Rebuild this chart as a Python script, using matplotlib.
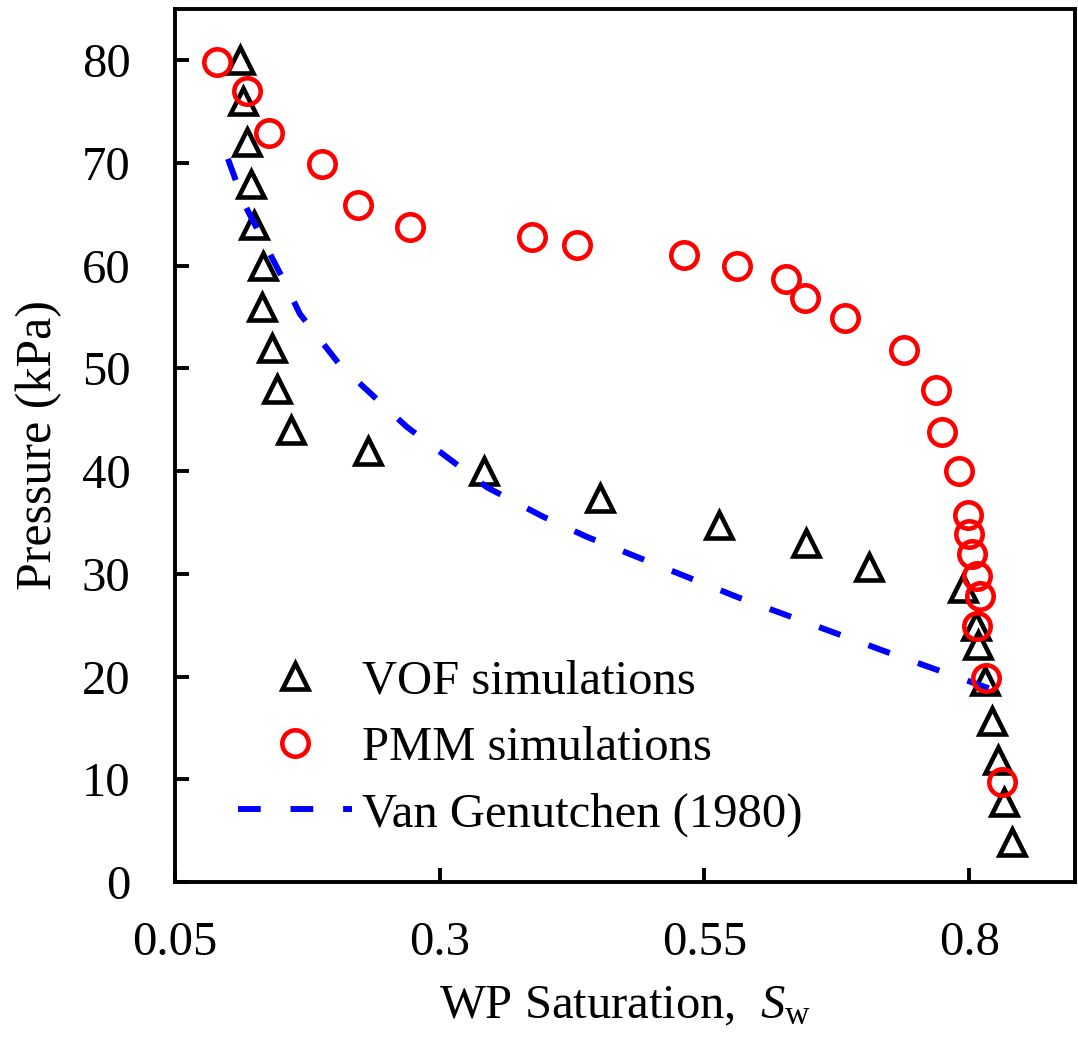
import numpy as np
import matplotlib
matplotlib.use("Agg")
import matplotlib.pyplot as plt

plt.rcParams['font.family'] = ['Liberation Serif', 'DejaVu Serif']
plt.rcParams['mathtext.fontset'] = 'custom'
plt.rcParams['mathtext.rm'] = 'Liberation Serif'
plt.rcParams['mathtext.it'] = 'Liberation Serif:italic'

# VOF simulations (saturation, pressure in kPa)
vof_sw = [0.111, 0.114, 0.118, 0.122, 0.125, 0.133, 0.132, 0.142, 0.146, 0.160,
          0.232, 0.342, 0.451, 0.564, 0.646, 0.705, 0.794, 0.806, 0.808, 0.815,
          0.822, 0.827, 0.833, 0.840]
vof_p = [80, 76, 72, 68, 64, 60, 56, 52, 48, 44,
         42, 40, 37.4, 34.8, 33.0, 30.7, 28.6, 24.9, 23.1, 19.6,
         15.7, 11.9, 7.8, 3.9]

# PMM simulations
pmm_sw = [0.090, 0.118, 0.139, 0.189, 0.223, 0.272, 0.387, 0.430, 0.531, 0.581,
          0.627, 0.645, 0.683, 0.738, 0.769, 0.774, 0.790, 0.799, 0.800, 0.803,
          0.807, 0.810, 0.807, 0.816, 0.831]
pmm_p = [79.8, 77.0, 72.9, 69.9, 65.9, 63.8, 62.8, 62.0, 61.0, 60.0,
         58.7, 56.9, 54.9, 51.8, 47.9, 43.8, 40.0, 35.7, 33.9, 31.9,
         29.8, 27.8, 24.9, 19.9, 9.7]

# Van Genuchten (1980) curve
vg_sw = [0.100, 0.116, 0.151, 0.168, 0.206, 0.269, 0.345, 0.397, 0.439,
         0.582, 0.722, 0.831]
vg_p = [70.4, 65.9, 58.9, 55.3, 50.3, 44.3, 38.4, 35.6, 33.6,
        27.7, 22.4, 18.4]

xticks = [0.05, 0.3, 0.55, 0.8]
yticks = [0, 10, 20, 30, 40, 50, 60, 70, 80]

fig = plt.figure(figsize=(10.78, 10.45), dpi=100)
ax = fig.add_axes([0.1623, 0.156, 0.835, 0.8355])

ax.plot(vof_sw, vof_p, linestyle='none', marker='^', markersize=19,
        markerfacecolor='white', markeredgecolor='black', markeredgewidth=3.3,
        label='VOF simulations', zorder=3)
ax.plot(vg_sw, vg_p, color='#0000ff', linewidth=4.3, dashes=(3.8, 5.0),
        label='Van Genutchen (1980)', zorder=4)
ax.plot(pmm_sw, pmm_p, linestyle='none', marker='o', markersize=19,
        markerfacecolor='none', markeredgecolor='#ff0000', markeredgewidth=3.3,
        label='PMM simulations', zorder=5)

ax.set_xlim(0.05, 0.9)
ax.set_ylim(0, 85)
ax.set_xticks(xticks)
ax.set_xticklabels(['0.05', '0.3', '0.55', '0.8'])
ax.set_yticks(yticks)

for s in ax.spines.values():
    s.set_linewidth(2.8)
ax.tick_params(direction='in', length=10, width=2.8, labelsize=35)
ax.tick_params(axis='y', pad=32)
ax.tick_params(axis='x', pad=28)

ax.set_xlabel('WP Saturation,  $S_{\\rm w}$', fontsize=35, labelpad=14)
ax.set_ylabel('Pressure (kPa)', fontsize=36, labelpad=14)

h, l = ax.get_legend_handles_labels()
order = [0, 2, 1]
ax.legend([h[i] for i in order], [l[i] for i in order], loc='lower left',
          bbox_to_anchor=(0.07, 0.052), frameon=False, fontsize=35,
          handlelength=2.35, handletextpad=0.2, labelspacing=0.46,
          borderpad=0, borderaxespad=0)

fig.savefig('out.png', dpi=100)
